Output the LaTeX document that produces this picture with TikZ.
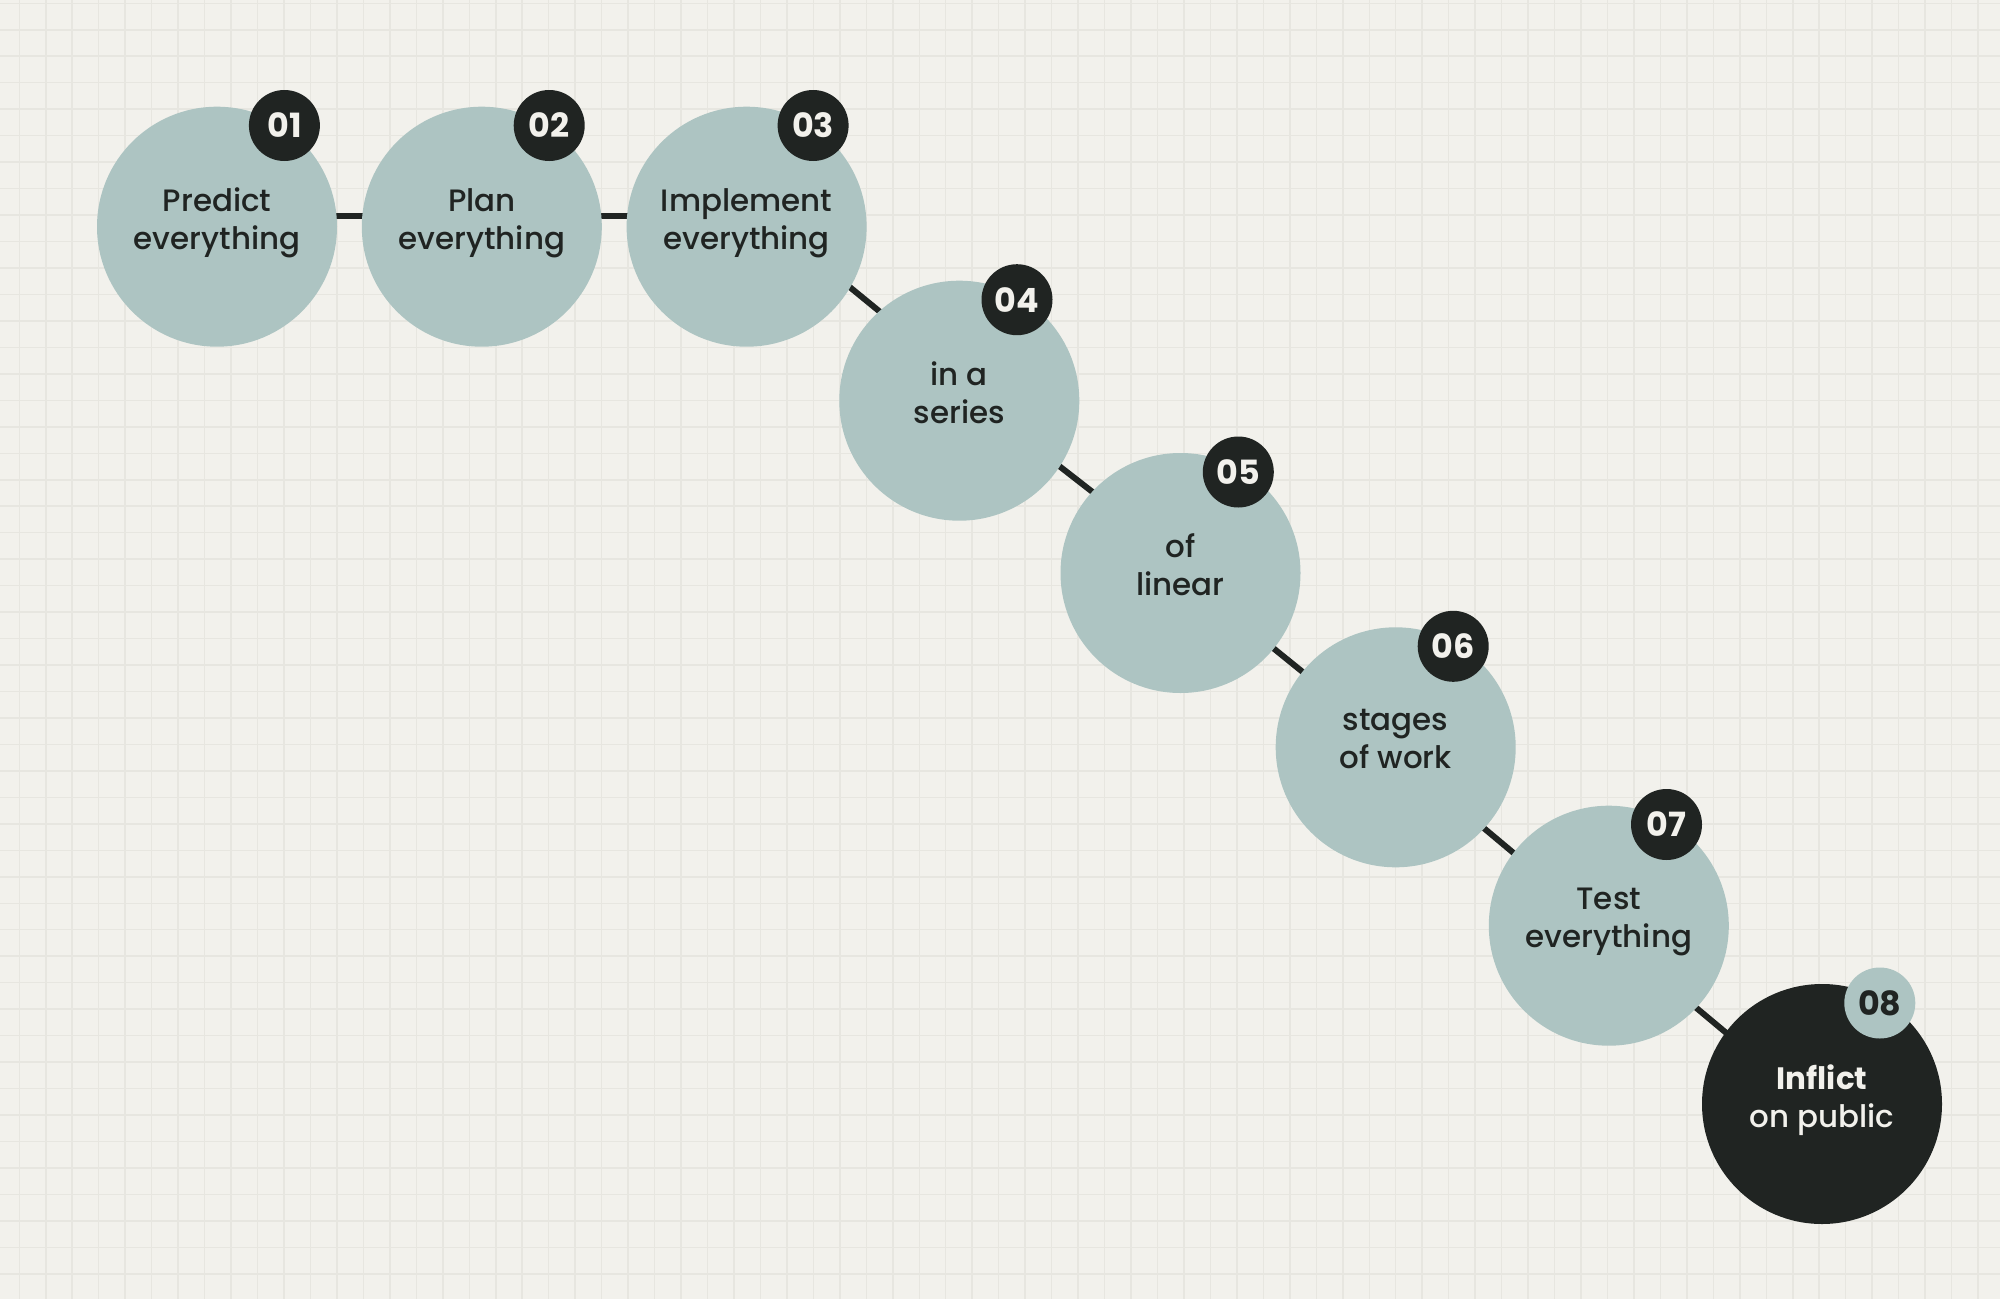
\documentclass[tikz,border=0pt]{standalone}
\usepackage{fontspec}
\setmainfont{Poppins}[UprightFont=* Medium, BoldFont=* Bold]
\usetikzlibrary{positioning}

\definecolor{paper}{HTML}{F2F1EC}
\definecolor{gridc}{HTML}{E7E6E0}
\definecolor{sage}{HTML}{ADC4C2}
\definecolor{ink}{HTML}{202422}

\pgfdeclarelayer{grid}
\pgfdeclarelayer{links}
\pgfsetlayers{grid,links,main}

% keeps the two lines of a disc at the same height
\newcommand\lowstrut{\rule[-0.16cm]{0pt}{0.16cm}}

\begin{document}
\begin{tikzpicture}[
    stepdisc/.style={circle, fill=sage, text=ink, minimum size=2.4cm, inner sep=0pt,
        align=center, font=\fontsize{8.8}{10.8}\selectfont,
        execute at begin node=\strut, execute at end node=\lowstrut},
    lastdisc/.style={stepdisc, fill=ink, text=paper},
    badge/.style={circle, fill=ink, text=paper, minimum size=0.71cm, inner sep=0pt,
        font=\fontsize{9.5}{10}\selectfont\bfseries},
    lastbadge/.style={badge, fill=sage, text=ink},
    link/.style={draw=ink, line width=0.06cm},
    gridline/.style={draw=gridc, line width=0.015cm}
]
\useasboundingbox (0,0) rectangle (20,-12.99);

% paper and grid
\begin{pgfonlayer}{grid}
\fill[paper] (0,0) rectangle (20,-12.99);
\foreach \i in {0,...,74}
    \draw[gridline] ({0.193+0.2647*\i},0) -- ++(0,-12.99);
\foreach \j in {0,...,48}
    \draw[gridline] (0,{-0.033-0.2647*\j}) -- ++(20,0);
\end{pgfonlayer}

% the steps
\node[stepdisc] (p1) at (2.17,-2.267) {Predict\\everything};
\node[stepdisc, right=0.234cm of p1] (p2) {Plan\\everything};
\node[stepdisc, right=0.234cm of p2] (p3) {Implement\\everything};
\node[stepdisc] (p4) at (9.593,-4.007) {in a\\series};
\node[stepdisc] (p5) at (11.805,-5.73) {of\\linear};
\node[stepdisc] (p6) at (13.957,-7.473) {stages\\of work};
\node[stepdisc] (p7) at (16.088,-9.257) {Test\\everything};
\node[lastdisc] (p8) at (18.22,-11.04) {{\bfseries Inflict}\\on public};

% numbers
\node[badge] (n1) at ([shift={(0.674,1.012)}]p1.center) {01};
\node[badge] (n2) at ([shift={(0.674,1.012)}]p2.center) {02};
\node[badge] (n3) at ([shift={(0.665,1.012)}]p3.center) {03};
\node[badge] (n4) at ([shift={(0.577,1.01)}]p4.center) {04};
\node[badge] (n5) at ([shift={(0.578,1.01)}]p5.center) {05};
\node[badge] (n6) at ([shift={(0.575,1.01)}]p6.center) {06};
\node[badge] (n7) at ([shift={(0.577,1.012)}]p7.center) {07};
\node[lastbadge] (n8) at ([shift={(0.578,1.01)}]p8.center) {08};

% links behind the discs
\begin{pgfonlayer}{links}
\draw[link] ([yshift=0.11cm]p1.center) -- ([yshift=0.11cm]p2.center);
\draw[link] ([yshift=0.11cm]p2.center) -- ([yshift=0.11cm]p3.center);
\draw[link] ([yshift=0.24cm]p3.center) -- ([yshift=0.24cm]p4.center);
\draw[link] ([yshift=0.125cm]p4.center) -- ([yshift=0.125cm]p5.center);
\draw[link] (p5.center) -- (p6.center);
\draw[link] ([yshift=-0.07cm]p6.center) -- ([yshift=-0.07cm]p7.center);
\draw[link] ([yshift=-0.09cm]p7.center) -- ([yshift=-0.09cm]p8.center);
\end{pgfonlayer}
\end{tikzpicture}
\end{document}
